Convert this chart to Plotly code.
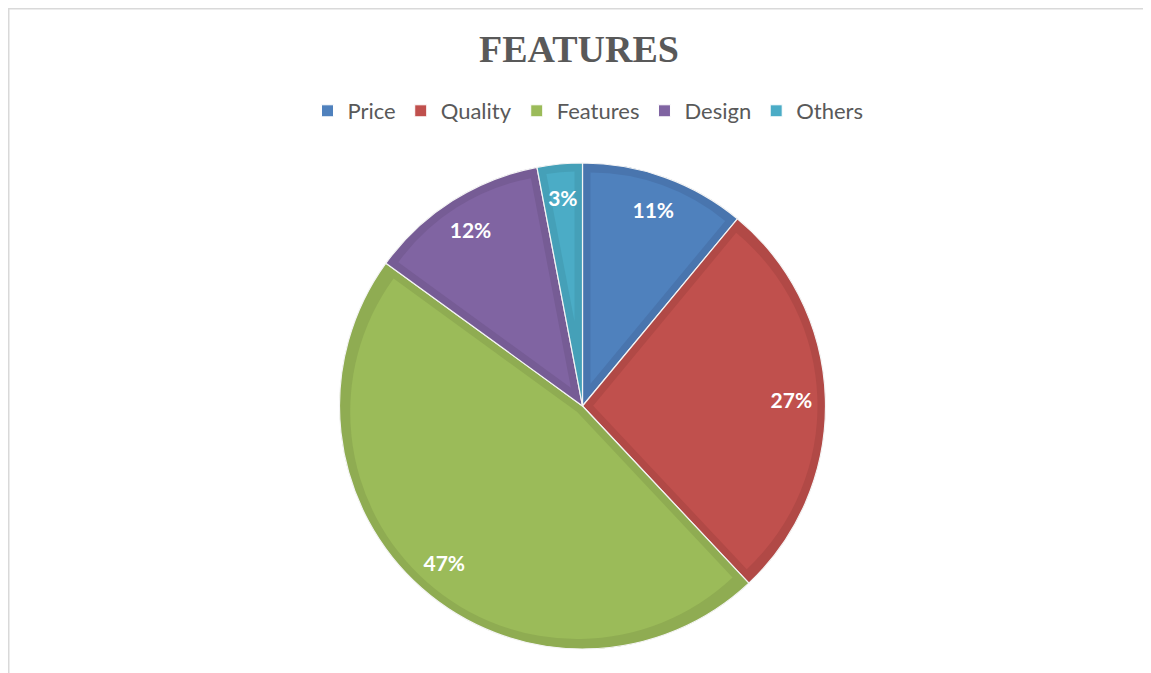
import numpy as np
import plotly.graph_objects as go

# data
labels = ["Price", "Quality", "Features", "Design", "Others"]
shares = [11, 27, 47, 12, 3]
pct_text = ["11%", "27%", "47%", "12%", "3%"]

# office-style palette and the slightly darker inset edge of each slice
colors = ["#4F81BD", "#C0504D", "#9BBB59", "#8064A2", "#4BACC6"]
edge_colors = ["#4975AE", "#B14946", "#8FAC52", "#765C95", "#45A0B8"]
clear = "rgba(0,0,0,0)"

# the page body adds an 8px margin, so the figure is 8px smaller and shifted
W, H = 1143, 665
cx, cy, R = 574.5, 398, 243   # pie centre and radius in figure pixels
band = 8                        # width of the darker inset edge
label_r = 209                   # distance of the % labels from the centre


def dom(half):
    return dict(x=[(cx - half) / W, (cx + half) / W],
                y=[1 - (cy + half) / H, 1 - (cy - half) / H])


common = dict(labels=labels, values=shares, sort=False, direction="clockwise",
              rotation=0, hoverinfo="skip")

fig = go.Figure()

# legend carrier, fully covered by the layers above
fig.add_trace(go.Pie(marker=dict(colors=colors, line=dict(color="white", width=1)),
                     domain=dom(R), showlegend=True, textinfo="none", **common))

# darker full pie = the edge band
fig.add_trace(go.Pie(marker=dict(colors=edge_colors, line=dict(color="#f4f4f4", width=1.2)),
                     domain=dom(R), showlegend=False, textinfo="none", **common))

# lighter inner part of each slice, inset by pulling a smaller copy outwards
n = len(shares)
for i, s in enumerate(shares):
    p = band / np.sin(np.pi * s / 100)
    r_i = R - band - p
    pulls = [p / r_i if j == i else 0 for j in range(n)]
    cols = [colors[j] if j == i else clear for j in range(n)]
    fig.add_trace(go.Pie(marker=dict(colors=cols, line=dict(width=0)), pull=pulls,
                         domain=dom(R - band), showlegend=False, textinfo="none", **common))

# percentage labels: a transparent donut per slice, text sits mid-ring
hole_t = 2 * label_r / R - 1
ring_half = (1 - hole_t) / 2
for i, s in enumerate(shares):
    sn = np.sin(np.pi * s / 100)
    rins = sn / (1 + sn)
    if rins >= ring_half:
        half, hole = R, hole_t
    else:
        half, hole = label_r / (1 - rins), 0
    txt = [pct_text[j] if j == i else "" for j in range(n)]
    fig.add_trace(go.Pie(marker=dict(colors=[clear] * n, line=dict(width=0)), hole=hole,
                         text=txt, textinfo="text", textposition="inside",
                         insidetextorientation="horizontal",
                         textfont=dict(family="Lato", size=21, color="white", weight="bold"),
                         domain=dom(half), showlegend=False, **common))

fig.update_layout(
    width=W, height=H,
    margin=dict(l=0, r=0, t=0, b=0),
    paper_bgcolor="white",
    title=dict(text="<b>FEATURES</b>", x=571 / W, y=1 - 41 / H, xanchor="center", yanchor="middle",
               font=dict(family="Liberation Serif", size=38, color="#595959")),
    legend=dict(orientation="h", x=580 / W, y=1 - 103 / H, xanchor="center", yanchor="middle",
                font=dict(family="Lato", size=22, color="#595959"), traceorder="normal"),
    shapes=[
        dict(type="line", xref="paper", yref="paper", x0=0, x1=1, y0=1 - 0.75 / H, y1=1 - 0.75 / H,
             line=dict(color="#d9d9d9", width=1.5)),
        dict(type="line", xref="paper", yref="paper", x0=0.75 / W, x1=0.75 / W, y0=0, y1=1,
             line=dict(color="#d9d9d9", width=1.5)),
    ],
)

fig.write_html("out.html")
